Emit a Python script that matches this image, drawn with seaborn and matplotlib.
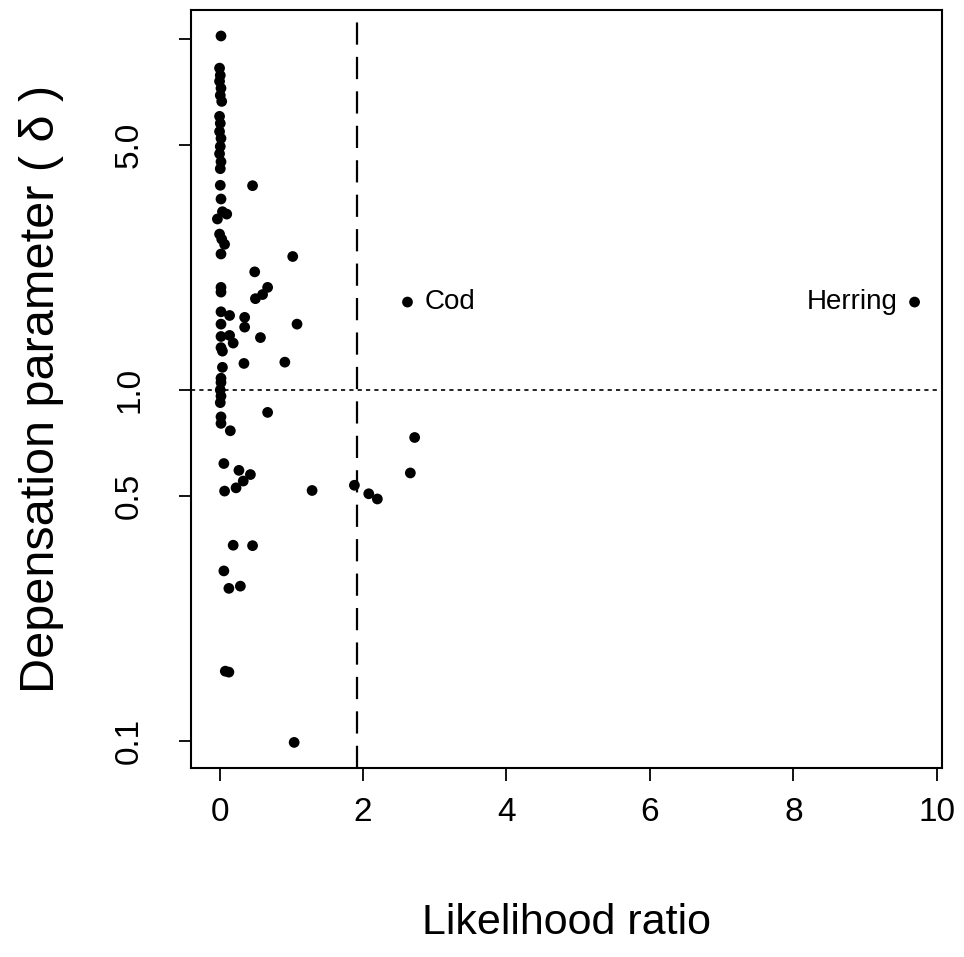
import matplotlib
matplotlib.use("Agg")
import pandas as pd
import seaborn as sns
from matplotlib import pyplot as plt

# likelihood ratio (x) and depensation parameter delta (y)
lr = [
    0.02,
    0.00, 0.01, 0.00, 0.02, 0.01, 0.03,
    0.00, 0.01, 0.00, 0.02, 0.01, 0.00, 0.02, 0.01,
    0.01, 0.46, 0.02,
    0.04, -0.03, 0.10,
    0.00, 0.03, 0.07,
    0.02, 1.02, 0.49,
    0.02, 0.02, 0.67, 0.60, 0.50,
    0.02, 0.14, 0.35, 0.35,
    0.02, 1.08,
    0.02, 0.14, 0.19, 0.57,
    0.02, 0.04, 0.34, 0.91, 0.04,
    0.02, 0.02, 0.01, 0.02, 0.01,
    0.67, 0.02, 0.02, 0.15,
    0.06, 0.27, 0.43,
    0.33, 0.23, 0.07,
    1.29, 1.88, 2.08, 2.20,
    2.72, 2.66,
    0.19, 0.46, 0.06, 0.13, 0.29,
    0.08, 0.13, 1.04,
    2.62, 9.69,
]
delta = [
    10.2,
    8.26, 7.88, 7.58, 7.24, 6.91, 6.64,
    6.02, 5.75, 5.45, 5.21, 4.94, 4.71, 4.47, 4.27,
    3.83, 3.82, 3.50,
    3.22, 3.07, 3.17,
    2.78, 2.69, 2.60,
    2.44, 2.40, 2.17,
    1.96, 1.90, 1.96, 1.87, 1.82,
    1.67, 1.63, 1.61, 1.51,
    1.54, 1.54,
    1.42, 1.43, 1.36, 1.41,
    1.32, 1.29, 1.19, 1.20, 1.16,
    1.08, 1.05, 1.00, 0.96, 0.92,
    0.863, 0.838, 0.803, 0.765,
    0.617, 0.590, 0.574,
    0.550, 0.526, 0.515,
    0.517, 0.535, 0.506, 0.489,
    0.732, 0.580,
    0.361, 0.360, 0.305, 0.272, 0.276,
    0.158, 0.157, 0.099,
    1.78, 1.78,
]
labels = {"Cod": (2.62, 1.78), "Herring": (9.69, 1.78)}
lr_crit = 1.92
x_ticks = [0, 2, 4, 6, 8, 10]
y_ticks = [0.1, 0.5, 1.0, 5.0, 10.0]
y_ticklabels = ["0.1", "0.5", "1.0", "5.0", ""]

sns.set_theme(style="ticks")
plt.rcParams["font.family"] = ["Liberation Sans", "DejaVu Sans"]
plt.rcParams["text.color"] = "black"
plt.rcParams["axes.labelcolor"] = "black"

df = pd.DataFrame({"lr": lr, "delta": delta})

fig = plt.figure(figsize=(9.64, 9.57), dpi=100)
ax = fig.add_axes([0.198, 0.1975, 0.779, 0.7921])

sns.scatterplot(data=df, x="lr", y="delta", ax=ax, color="black", s=60,
                edgecolor="none", legend=False)

ax.axvline(lr_crit, color="black", lw=1.6, linestyle=(0, (10, 5.5)))
ax.axhline(1.0, color="black", lw=1.2, linestyle=(0, (2.5, 2.5)))

ax.annotate("Cod", labels["Cod"], xytext=(12, 0), textcoords="offset points",
            ha="left", va="center", fontsize=20)
ax.annotate("Herring", labels["Herring"], xytext=(-12, 0), textcoords="offset points",
            ha="right", va="center", fontsize=20)

ax.set_yscale("log")
ax.set_xlim(-0.40, 10.07)
ax.set_ylim(0.0837, 12.1)
ax.set_xticks(x_ticks)
ax.set_yticks(y_ticks)
ax.set_yticklabels(y_ticklabels)
ax.minorticks_off()
ax.tick_params(axis="both", direction="out", length=9, width=1.3, colors="black",
               labelsize=24)
ax.tick_params(axis="x", pad=12)
ax.tick_params(axis="y", pad=24)
for lab in ax.get_yticklabels():
    lab.set_rotation(90)
    lab.set_va("center")

for sp in ax.spines.values():
    sp.set_visible(True)
    sp.set_linewidth(1.5)
    sp.set_color("black")

ax.set_xlabel("Likelihood ratio", fontsize=31, labelpad=54)
ax.set_ylabel("Depensation parameter ( δ )", fontsize=35, labelpad=36)

plt.savefig("out.png", dpi=100)
plt.close()
